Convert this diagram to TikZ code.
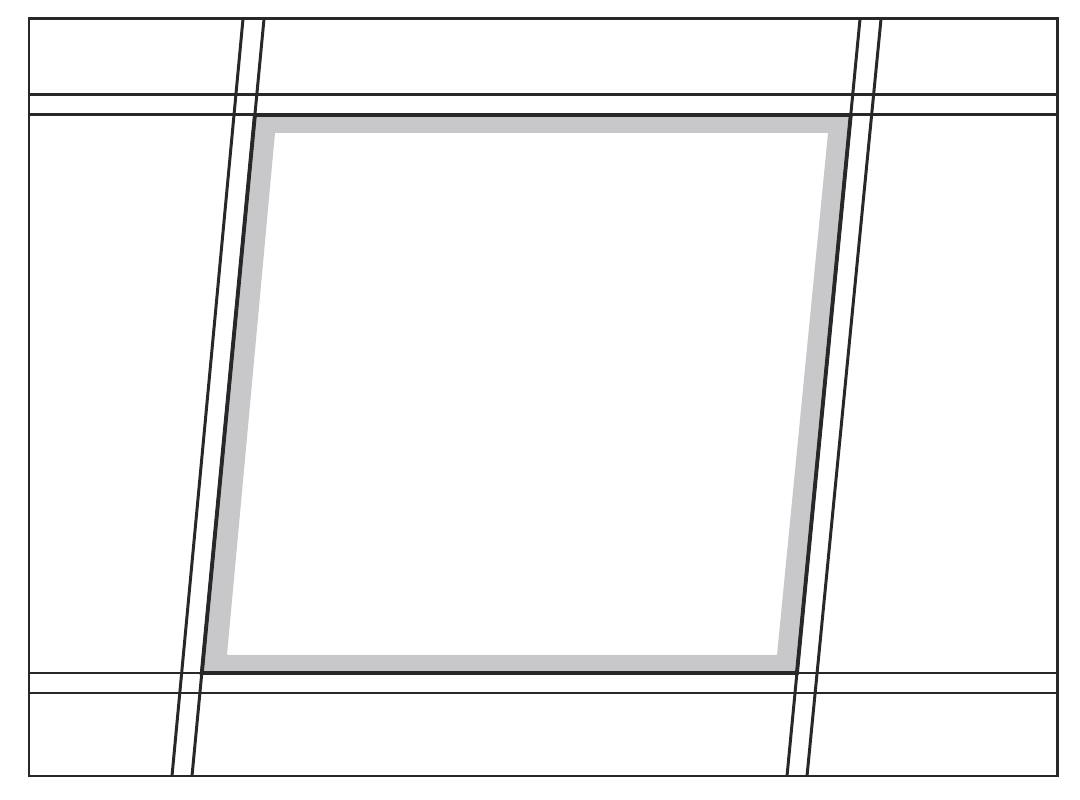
\documentclass[tikz,border=0pt]{standalone}
\usepackage{xcolor}
\usepackage{tikz}
\usetikzlibrary{calc,intersections}
\usepackage{tkz-euclide}
\definecolor{framegray}{RGB}{200,200,202}
\definecolor{linegray}{RGB}{40,40,40}

\begin{document}
\begin{tikzpicture}[line width=0.85pt, draw=linegray]
		\useasboundingbox (0,0) rectangle (10.8,8);
		%----------------------------------------------------
		% Outer frame
		%----------------------------------------------------
		\tkzDefPoint (0.29, 0.24){SW}
		\tkzDefPoint (10.57, 0.24){SE}
		\tkzDefPoint (10.57, 7.81){NE}
		\tkzDefPoint (0.29, 7.81){NW}

		%----------------------------------------------------
		% Slanted strips, left and right
		%----------------------------------------------------
		\tkzDefPoint (2.43, 7.81){La}  \tkzDefPoint (1.72, 0.24){Lb}
		\tkzDefPoint (2.64, 7.81){Lc}  \tkzDefPoint (1.92, 0.24){Ld}
		\tkzDefPoint (8.60, 7.81){Ra}  \tkzDefPoint (7.87, 0.24){Rb}
		\tkzDefPoint (8.81, 7.81){Rc}  \tkzDefPoint (8.07, 0.24){Rd}

		%----------------------------------------------------
		% Horizontal strips, top and bottom
		%----------------------------------------------------
		\tkzDefPoint (0.29, 7.05){Ta}  \tkzDefPoint (10.57, 7.05){Tb}
		\tkzDefPoint (0.29, 6.85){Tc}  \tkzDefPoint (10.57, 6.85){Td}
		\tkzDefPoint (0.29, 1.27){Ba}  \tkzDefPoint (10.57, 1.27){Bb}
		\tkzDefPoint (0.29, 1.07){Bc}  \tkzDefPoint (10.57, 1.07){Bd}

		% corners of the framed opening
		\tkzInterLL(Lc,Ld)(Tc,Td) \tkzGetPoint{A}
		\tkzInterLL(Ra,Rb)(Tc,Td) \tkzGetPoint{B}
		\tkzInterLL(Ra,Rb)(Ba,Bb) \tkzGetPoint{C}
		\tkzInterLL(Lc,Ld)(Ba,Bb) \tkzGetPoint{D}

		% inner edge of the gray band
		\tkzDefPoint (2.75, 6.67){E}
		\tkzDefPoint (8.28, 6.67){F}
		\tkzDefPoint (7.77, 1.45){G}
		\tkzDefPoint (2.27, 1.45){H}

		\fill [framegray, even odd rule] (A) -- (B) -- (C) -- (D) -- cycle
			(E) -- (F) -- (G) -- (H) -- cycle;
		\draw [linegray, line width=1.1pt] (A) -- (B) -- (C) -- (D) -- cycle;

		\draw [linegray] (SW) -- (SE) -- (NE) -- (NW) -- cycle;
		\draw [linegray] (Ta) -- (Tb);
		\draw [linegray] (Tc) -- (Td);
		\draw [linegray] (Ba) -- (Bb);
		\draw [linegray] (Bc) -- (Bd);
		\draw [linegray] (La) -- (Lb);
		\draw [linegray] (Lc) -- (Ld);
		\draw [linegray] (Ra) -- (Rb);
		\draw [linegray] (Rc) -- (Rd);
	\end{tikzpicture}
\end{document}
